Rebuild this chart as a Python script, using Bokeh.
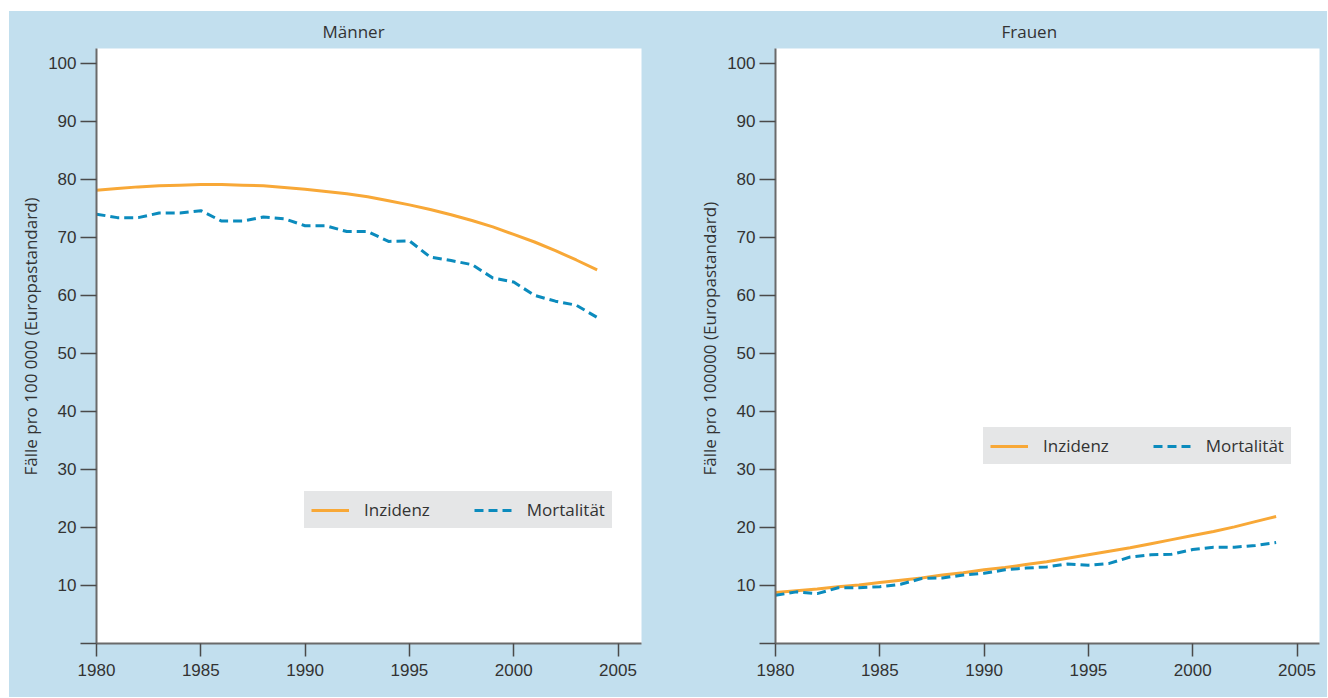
from bokeh.plotting import figure
from bokeh.models import Legend, LegendItem, Title, FixedTicker, Range1d, Spacer
from bokeh.layouts import row, column
from bokeh.embed import file_html
from bokeh.resources import INLINE

years = list(range(1980, 2005))

maenner_inzidenz = [78.1, 78.4, 78.7, 78.9, 79.0, 79.1, 79.1, 79.0, 78.9, 78.6,
                    78.3, 77.9, 77.5, 77.0, 76.3, 75.6, 74.8, 73.9, 72.9, 71.8,
                    70.5, 69.2, 67.7, 66.1, 64.4]
maenner_mortalitaet = [74.0, 73.4, 73.4, 74.2, 74.2, 74.6, 72.8, 72.8, 73.5, 73.2,
                       72.0, 72.0, 71.0, 71.0, 69.3, 69.4, 66.6, 66.0, 65.3, 63.0,
                       62.3, 60.0, 59.0, 58.3, 56.2]
frauen_inzidenz = [8.8, 9.1, 9.4, 9.8, 10.1, 10.5, 10.9, 11.3, 11.8, 12.2,
                   12.7, 13.1, 13.6, 14.1, 14.7, 15.3, 15.9, 16.5, 17.2, 17.9,
                   18.6, 19.3, 20.1, 21.0, 21.9]
frauen_mortalitaet = [8.3, 8.9, 8.6, 9.6, 9.6, 9.8, 10.2, 11.2, 11.3, 11.8,
                      12.1, 12.7, 13.0, 13.2, 13.7, 13.5, 13.8, 14.9, 15.3, 15.4,
                      16.2, 16.6, 16.6, 16.9, 17.4]

x_ticks = [1980, 1985, 1990, 1995, 2000, 2005]
y_ticks = [0, 10, 20, 30, 40, 50, 60, 70, 80, 90, 100]

BG = "#c2dfee"
LEG_BG = "#e5e6e7"
ORANGE = "#f8a837"
BLUE = "#0b8bbd"
TEXT = "#333333"
FONT = "Open Sans"
TICKFONT = "Liberation Sans"
FIG_H = 686


def panel(title, ylabel, inz, mort, width, bl, br, frame_w, legend_loc):
    p = figure(width=width, height=FIG_H,
               x_range=Range1d(1980, 1980 + frame_w / 20.86),
               y_range=Range1d(0, 102.55),
               output_backend="svg", toolbar_location=None,
               min_border_left=bl, min_border_right=br,
               min_border_top=36, min_border_bottom=FIG_H - 36 - 596,
               background_fill_color="white", border_fill_color=BG,
               outline_line_color=None, title=title)
    p.title.align = "left"
    p.title.offset = 226
    p.title.text_font = FONT
    p.title.text_font_size = "17px"
    p.title.text_font_style = "normal"
    p.title.text_color = TEXT
    p.title.standoff = 12

    p.xgrid.visible = False
    p.ygrid.visible = False

    for ax in (p.xaxis[0], p.yaxis[0]):
        ax.axis_line_color = "#6a6a6a"
        ax.axis_line_width = 2
        ax.major_tick_line_color = "#4a4a4a"
        ax.major_tick_line_width = 1.5
        ax.major_tick_in = 0
        ax.minor_tick_line_color = None
        ax.major_label_text_font = TICKFONT
        ax.major_label_text_font_size = "17px"
        ax.major_label_text_color = TEXT
    p.xaxis.ticker = FixedTicker(ticks=x_ticks)
    p.yaxis.ticker = FixedTicker(ticks=y_ticks)
    p.yaxis.major_label_overrides = {0: ""}
    p.xaxis.major_tick_out = 13
    p.xaxis.major_label_standoff = 7
    p.yaxis.major_tick_out = 16
    p.yaxis.major_label_standoff = 4

    p.add_layout(Title(text=ylabel, align="left", offset=168,
                       text_font=FONT, text_font_size="17px",
                       text_font_style="normal", text_color=TEXT,
                       standoff=8), "left")

    r1 = p.line(years, inz, line_color=ORANGE, line_width=3)
    r2 = p.line(years, mort, line_color=BLUE, line_width=3, line_dash="9 5")

    leg = Legend(items=[LegendItem(label="Inzidenz", renderers=[r1]),
                        LegendItem(label="Mortalität", renderers=[r2])],
                 location=legend_loc, orientation="horizontal",
                 background_fill_color=LEG_BG, background_fill_alpha=1,
                 border_line_color=LEG_BG, border_line_width=7,
                 padding=0, margin=0, spacing=44,
                 label_standoff=15, glyph_width=38, glyph_height=22,
                 label_height=22, label_text_font=FONT,
                 label_text_font_size="17px", label_text_color=TEXT)
    p.add_layout(leg)
    return p


p1 = panel("Männer", "Fälle pro 100 000 (Europastandard)",
           maenner_inzidenz, maenner_mortalitaet, 671, 87, 39, 545, (208, 115))
p2 = panel("Frauen", "Fälle pro 100000 (Europastandard)",
           frauen_inzidenz, frauen_mortalitaet, 647, 95, 8, 544, (208, 179))

panels = row(p1, p2, styles={"background-color": BG})
layout = column(Spacer(height=11), row(Spacer(width=9), panels))

with open("out.html", "w") as f:
    f.write(file_html(layout, INLINE))
